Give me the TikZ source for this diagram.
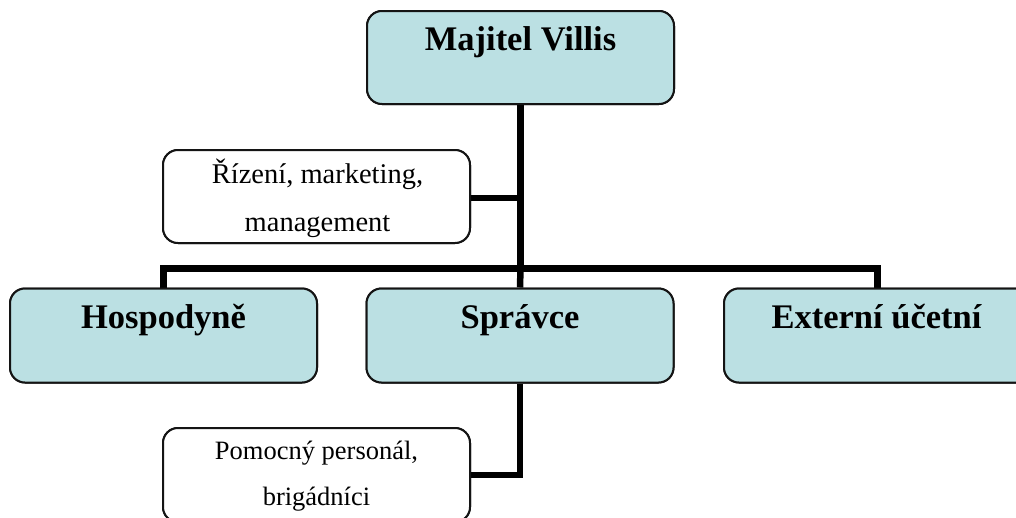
\documentclass[tikz,border=0pt]{standalone}
\usepackage{fontspec}
\setmainfont{Liberation Serif}
\definecolor{boxblue}{RGB}{187,224,227}
\definecolor{edge}{RGB}{20,20,20}
\tikzset{
  bluebox/.style={draw=edge, line width=2pt, fill=boxblue, rounded corners=15pt, minimum width=307pt, minimum height=94pt, inner sep=0pt},
  whitebox/.style={draw=edge, line width=2pt, fill=white, rounded corners=15pt, minimum width=307pt, minimum height=93pt, inner sep=0pt},
  bigtext/.style={anchor=base, inner sep=0pt, font=\fontsize{34.5}{40}\selectfont\bfseries},
  smalltext/.style={anchor=base, inner sep=0pt},
  conn/.style={draw=black, line width=6.5pt}
}
\begin{document}
\begin{tikzpicture}[x=1pt,y=-1pt]
\useasboundingbox (0,0) rectangle (1016,517);
\clip (0,0) rectangle (1016,517);
% boxes
\node[bluebox, minimum height=93pt] (maj) at (520.5,57.5) {};
\node[whitebox] (riz) at (316.5,196.5) {};
\node[bluebox] (hos) at (163.5,335.5) {};
\node[bluebox] (spr) at (520,335.5) {};
\node[bluebox] (ext) at (877.5,335.5) {};
\node[whitebox, minimum height=94pt] (pom) at (316.5,475) {};
% junctions
\coordinate (barL) at (163.5,268.5);
\coordinate (barM) at (520.5,268.5);
\coordinate (barR) at (877.5,268.5);
\coordinate (rizJ) at (520.5,198);
\coordinate (pomJ) at (520.5,475);
% connectors
\draw[conn] (maj.south) -- (barM);
\draw[conn] (riz.east |- rizJ) -- (rizJ);
\draw[conn] (hos.north) -- (barL) -- (barR) -- (ext.north);
\draw[conn] (barM) -- (spr.north);
\draw[conn] (spr.south) -- (spr.south |- pomJ) -- (pom.east);
% redraw box outlines over connector ends
\node[bluebox, minimum height=93pt] at (520.5,57.5) {};
\node[whitebox] at (316.5,196.5) {};
\node[bluebox] at (163.5,335.5) {};
\node[bluebox] at (520,335.5) {};
\node[bluebox] at (877.5,335.5) {};
\node[whitebox, minimum height=94pt] at (316.5,475) {};
% texts
\node[bigtext] (tmaj) at (520.5,50) {Majitel Villis};
\node[bigtext] (thos) at (163.5,328) {Hospodyně};
\node[bigtext] (tspr) at (520,328) {Správce};
\node[bigtext] (text) at (876.5,328) {Externí účetní};
\node[smalltext, font=\fontsize{28.5}{34}\selectfont] (triz1) at (317.5,183) {Řízení, marketing,};
\node[smalltext, font=\fontsize{28.5}{34}\selectfont] (triz2) at (317.5,231) {management};
\node[smalltext, font=\fontsize{26.5}{32}\selectfont] (tpom1) at (316.5,459) {Pomocný personál,};
\node[smalltext, font=\fontsize{26.5}{32}\selectfont] (tpom2) at (316.5,505) {brigádníci};
\end{tikzpicture}
\end{document}
